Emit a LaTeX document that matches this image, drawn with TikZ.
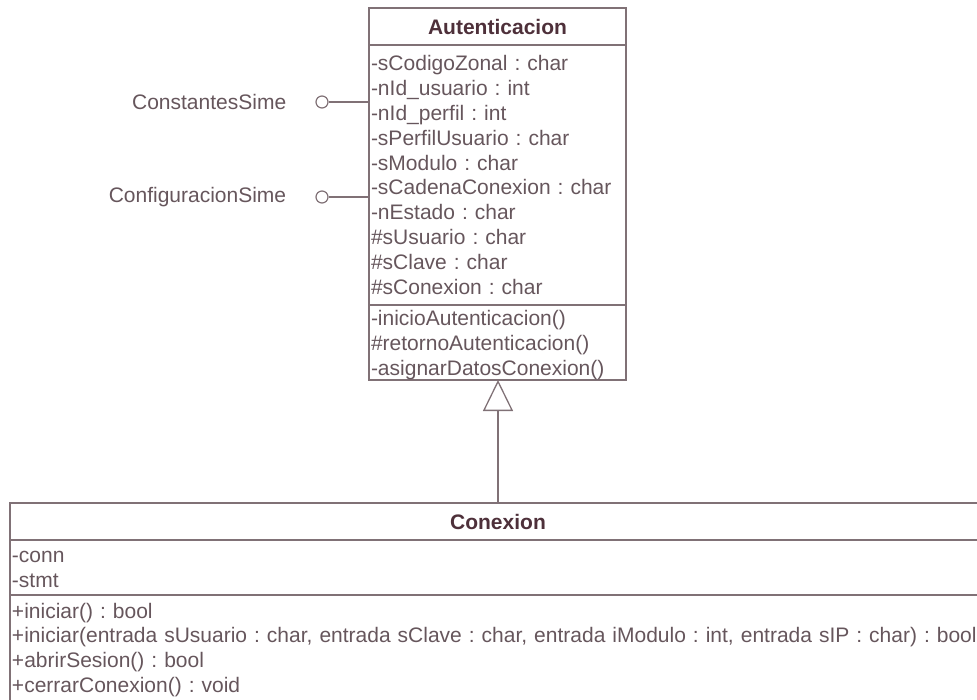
\documentclass[tikz,border=0pt]{standalone}
\usepackage{fontspec}
\setmainfont{Liberation Sans}
\usetikzlibrary{arrows.meta,positioning}
\definecolor{umlline}{RGB}{128,113,118}
\definecolor{umltext}{RGB}{102,86,92}
\definecolor{umltitle}{RGB}{78,48,58}
\frenchspacing

\begin{document}
\begin{tikzpicture}[
  x=1pt, y=-1pt,
  font=\fontsize{21}{24.9}\selectfont,
  text=umltext,
  compart/.style={draw=umlline, line width=1.3pt, inner xsep=2pt, inner ysep=0pt, outer sep=0pt, align=left},
  classtitle/.style={compart, align=center, font=\fontsize{21}{24.9}\selectfont\bfseries, text=umltitle},
  iface/.style={draw=umlline, circle, line width=1.2pt, minimum size=12pt, inner sep=0pt},
  ifacelabel/.style={inner sep=0pt},
  link/.style={draw=umlline, line width=1.3pt},
  inherit/.style={link, -{Triangle[open, length=31pt, width=30pt]}}
]
\useasboundingbox (0,0) rectangle (977,699);
\clip (0,0) rectangle (977,699);

\node[classtitle, text width=253pt, minimum height=37pt, anchor=north] (autTitle) at (497.5,8) {Autenticacion};
\node[compart, text width=253pt, minimum height=260pt, below=0pt of autTitle] (autAttr) {-sCodigoZonal : char\\-nId\_usuario : int\\-nId\_perfil : int\\-sPerfilUsuario : char\\-sModulo : char\\-sCadenaConexion : char\\-nEstado : char\\\#sUsuario : char\\\#sClave : char\\\#sConexion : char};
\node[compart, text width=253pt, minimum height=75pt, below=0pt of autAttr] (autOps) {\rule{0pt}{20pt}-inicioAutenticacion()\\\#retornoAutenticacion()\\-asignarDatosConexion()};

\node[iface] (constIf) at (322,102) {};
\node[ifacelabel, left=29pt of constIf] (constLbl) {ConstantesSime};
\node[iface] (confIf) at (322,197) {};
\node[ifacelabel, left=29pt of confIf] (confLbl) {ConfiguracionSime};

\node[classtitle, text width=972pt, minimum height=37pt, anchor=north] (cnxTitle) at (498,503) {Conexion};
\node[compart, text width=972pt, minimum height=55pt, below=0pt of cnxTitle] (cnxAttr) {\rule{0pt}{15pt}-conn\\-stmt};
\node[compart, text width=972pt, minimum height=110pt, below=0pt of cnxAttr] (cnxOps) {+iniciar() : bool\\\mbox{+iniciar(entrada sUsuario : char, entrada sClave : char, entrada iModulo : int, entrada sIP : char) : bool}\\+abrirSesion() : bool\\+cerrarConexion() : void};

\draw[link] (constIf) -- (constIf -| autAttr.west);
\draw[link] (confIf) -- (confIf -| autAttr.west);
\draw[inherit] (cnxTitle.north) -- (cnxTitle.north |- autOps.south);
\end{tikzpicture}
\end{document}
